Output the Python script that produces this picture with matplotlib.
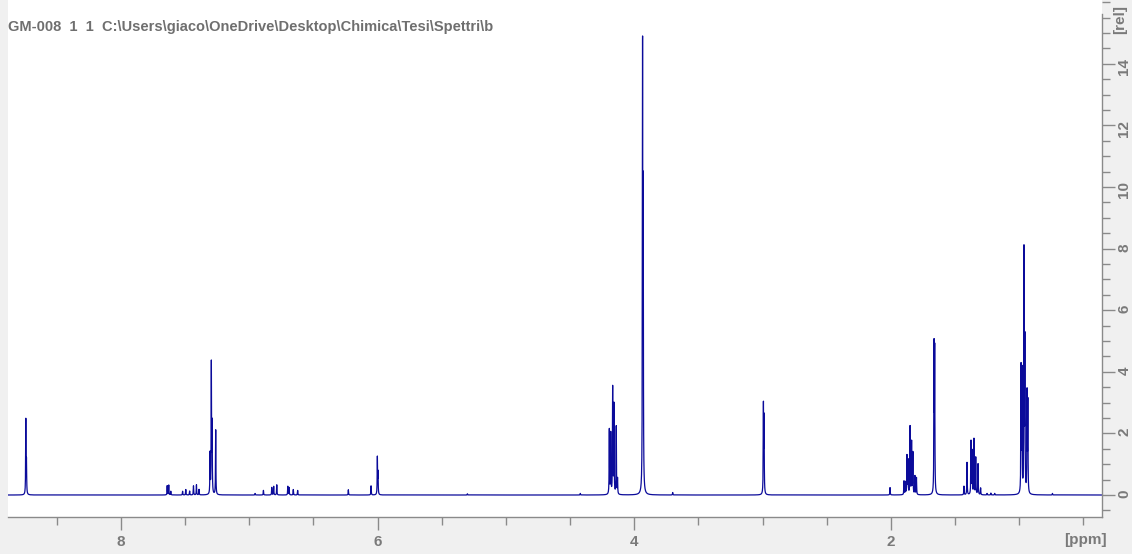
import numpy as np
import matplotlib.pyplot as plt
from matplotlib.ticker import MultipleLocator

# peak list: chemical shift (ppm) and height (rel)
shifts = [8.742, 8.737,
          7.640, 7.628, 7.612, 7.520, 7.495, 7.465, 7.435, 7.412, 7.392,
          7.306, 7.296, 7.290, 7.262,
          6.955, 6.890, 6.825, 6.810, 6.786, 6.700, 6.690, 6.657, 6.623,
          6.228, 6.051, 6.002, 5.997, 5.300, 4.420,
          4.194, 4.183, 4.168, 4.158, 4.140, 4.130,
          3.935, 3.930, 3.700,
          2.993, 2.988, 2.006,
          1.897, 1.886, 1.874, 1.866, 1.850, 1.838, 1.828, 1.812, 1.800,
          1.663, 1.658,
          1.430, 1.406, 1.375, 1.366, 1.352, 1.338, 1.320, 1.300,
          1.250, 1.220, 1.190,
          0.985, 0.978, 0.962, 0.955, 0.938, 0.932, 0.740]
heights = [2.4, 1.0,
           0.30, 0.32, 0.12, 0.12, 0.18, 0.13, 0.30, 0.33, 0.18,
           1.3, 4.2, 2.2, 2.1,
           0.05, 0.15, 0.25, 0.28, 0.33, 0.28, 0.24, 0.18, 0.15,
           0.17, 0.30, 1.2, 0.7, 0.04, 0.05,
           2.1, 2.0, 3.45, 2.9, 2.2, 0.5,
           14.2, 9.2, 0.08,
           2.85, 2.4, 0.24,
           0.45, 0.4, 1.25, 1.1, 2.2, 1.7, 1.35, 0.6, 0.55,
           4.7, 4.5,
           0.28, 1.05, 1.75, 1.4, 1.8, 1.2, 1.0, 0.22,
           0.05, 0.06, 0.05,
           4.1, 3.9, 7.8, 4.9, 3.2, 2.9, 0.05]

ppm = np.arange(0.30, 8.95, 0.0004)
hw = 0.0016
spec = np.zeros_like(ppm)
for s, h in zip(shifts, heights):
    spec += h * hw**2 / (hw**2 + (ppm - s)**2)

W, H = 1132, 554
fig = plt.figure(figsize=(W / 100, H / 100), dpi=100, facecolor='#f0f0f0')
ax = fig.add_axes([8 / W, (H - 517) / H, (1102 - 8) / W, 517 / H])
ax.set_facecolor('white')

ax.plot(ppm, spec, color='#0b0b9a', lw=0.9)

ax.set_xlim(8.881, 0.354)
ax.set_ylim(-0.714, 16.07)

grey = '#8a8a8a'
for side in ['left', 'top']:
    ax.spines[side].set_visible(False)
for side in ['right', 'bottom']:
    ax.spines[side].set_color(grey)
    ax.spines[side].set_linewidth(1.0)
ax.spines['right'].set_bounds(-0.714, 15.6)

ax.yaxis.tick_right()
ax.xaxis.set_major_locator(MultipleLocator(2))
ax.xaxis.set_minor_locator(MultipleLocator(0.5))
ax.yaxis.set_major_locator(MultipleLocator(2))
ax.yaxis.set_minor_locator(MultipleLocator(0.5))
ax.set_yticks(np.arange(0, 15, 2))

ax.tick_params(which='both', color=grey, direction='out', width=1)
ax.tick_params(which='major', length=9)
ax.tick_params(which='minor', length=6)
ax.tick_params(labelcolor='#7a7a7a', labelsize=11)
ax.tick_params(axis='y', labelrotation=90, pad=2)
ax.tick_params(axis='x', pad=4)
for lab in ax.get_xticklabels() + ax.get_yticklabels():
    lab.set_fontweight('bold')
    lab.set_family('Liberation Sans')

fig.text(1085 / W, 1 - 540 / H, '[ppm]', color='#7a7a7a', fontsize=11,
         fontweight='bold', family='Liberation Sans', ha='center', va='center')
fig.text(1120 / W, 1 - 20 / H, '[rel]', color='#7a7a7a', fontsize=11,
         fontweight='bold', family='Liberation Sans', ha='center', va='center',
         rotation=90)
fig.text(8 / W, 1 - 27 / H,
         'GM-008  1  1  C:\\Users\\giaco\\OneDrive\\Desktop\\Chimica\\Tesi\\Spettri\\b',
         color='#6f6f6f', fontsize=10.5, fontweight='bold',
         family='Liberation Sans', ha='left', va='center')

fig.savefig('out.png', dpi=100, facecolor=fig.get_facecolor())
